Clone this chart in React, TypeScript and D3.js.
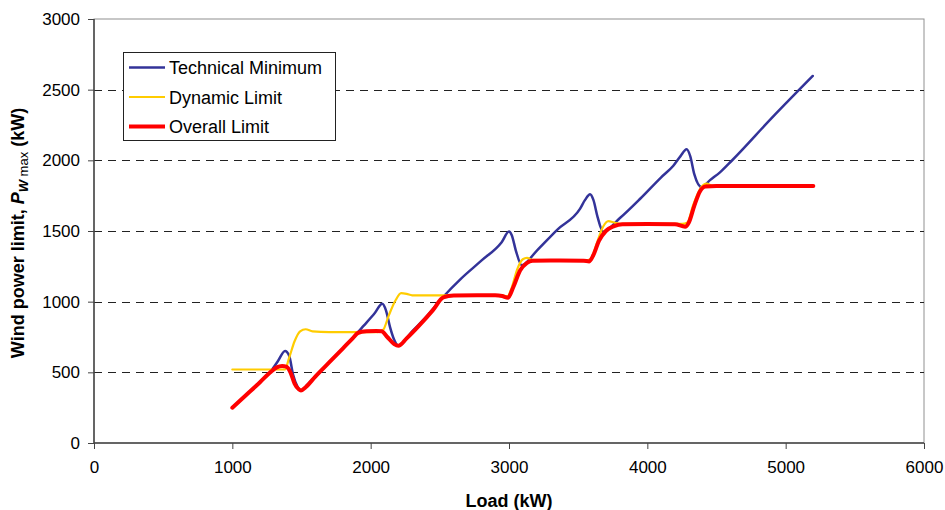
import { useRef, useEffect } from "react";
import { select, scaleLinear, line, curveMonotoneX, axisBottom, axisLeft } from "d3";

const xTicks = [0, 1000, 2000, 3000, 4000, 5000, 6000];
const yTicks = [0, 500, 1000, 1500, 2000, 2500, 3000];
const gridValues = [500, 1000, 1500, 2000, 2500];

// [load kW, power kW]
const technicalMinimum: [number, number][] = [
  [1000, 250], [1100, 340], [1200, 430], [1280, 510], [1330, 580], [1381, 651],
  [1410, 620], [1440, 480], [1470, 400], [1496, 372], [1550, 420], [1650, 520],
  [1750, 620], [1850, 720], [1950, 830], [2030, 920], [2084, 985], [2110, 940],
  [2140, 820], [2170, 730], [2200, 688], [2300, 790], [2400, 890], [2525, 1035],
  [2650, 1160], [2800, 1290], [2947, 1421], [3000, 1496], [3020, 1470], [3050, 1360],
  [3092, 1258], [3200, 1360], [3350, 1510], [3513, 1656], [3550, 1720], [3586, 1760],
  [3610, 1720], [3640, 1600], [3680, 1495], [3800, 1590], [3950, 1730], [4100, 1880],
  [4188, 1962], [4240, 2030], [4284, 2078], [4310, 2030], [4340, 1900], [4393, 1810],
  [4453, 1860], [4525, 1915], [4610, 1997], [4900, 2300], [5196, 2597],
];

const dynamicLimit: [number, number][] = [
  [1000, 520], [1200, 520], [1380, 520], [1410, 600], [1450, 720], [1490, 790],
  [1530, 805], [1580, 790], [1700, 785], [1900, 785], [2050, 785], [2090, 800],
  [2130, 900], [2180, 1010], [2220, 1060], [2260, 1055], [2300, 1045], [2500, 1045],
  [2900, 1045], [2950, 1043], [2990, 1040], [3020, 1100], [3060, 1230], [3100, 1300],
  [3130, 1310], [3170, 1295], [3300, 1292], [3550, 1292], [3590, 1300], [3630, 1400],
  [3680, 1530], [3718, 1570], [3760, 1560], [3800, 1550], [4000, 1550], [4250, 1550],
  [4290, 1560], [4330, 1680], [4390, 1810], [4429, 1835], [4470, 1820], [5200, 1818],
];

const overallLimit: [number, number][] = [
  [1000, 250], [1100, 340], [1200, 430], [1280, 505], [1321, 535], [1360, 545],
  [1390, 540], [1420, 500], [1450, 420], [1480, 380], [1496, 372], [1530, 395],
  [1600, 470], [1700, 570], [1800, 670], [1870, 740], [1911, 780], [1970, 790],
  [2040, 793], [2080, 790], [2120, 750], [2170, 700], [2200, 688], [2260, 740],
  [2350, 830], [2450, 940], [2525, 1030], [2600, 1043], [2900, 1045], [2950, 1040],
  [2993, 1028], [3030, 1100], [3080, 1220], [3130, 1275], [3170, 1290], [3300, 1292],
  [3540, 1290], [3580, 1285], [3610, 1330], [3650, 1430], [3700, 1500], [3760, 1535],
  [3820, 1548], [4000, 1550], [4200, 1548], [4273, 1530], [4300, 1560], [4340, 1680],
  [4380, 1780], [4420, 1815], [4500, 1818], [5200, 1818],
];

const series = [
  { name: "Technical Minimum", data: technicalMinimum, color: "#333399", width: 2.5 },
  { name: "Dynamic Limit", data: dynamicLimit, color: "#FFCC00", width: 2.2 },
  { name: "Overall Limit", data: overallLimit, color: "#FF0000", width: 4 },
];

const font = "Arial, 'Liberation Sans', sans-serif";

export default function App() {
  const svgRef = useRef<SVGSVGElement>(null);

  useEffect(() => {
    const svg = select(svgRef.current);
    svg.selectAll("*").remove();

    const left = 94, right = 924, top = 19, bottom = 443;
    const x = scaleLinear().domain([0, 6000]).range([left, right]);
    const y = scaleLinear().domain([0, 3000]).range([bottom, top]);

    // plot border
    svg.append("rect")
      .attr("x", left).attr("y", top)
      .attr("width", right - left).attr("height", bottom - top)
      .attr("fill", "none").attr("stroke", "#909090").attr("stroke-width", 1);

    // dashed grid
    svg.append("g")
      .selectAll("line")
      .data(gridValues)
      .join("line")
      .attr("x1", left).attr("x2", right)
      .attr("y1", (d) => Math.round(y(d)) + 0.5).attr("y2", (d) => Math.round(y(d)) + 0.5)
      .attr("stroke", "#222").attr("stroke-dasharray", "8,6");

    const xAxis = axisBottom(x).tickValues(xTicks).tickSize(6).tickPadding(12).tickFormat((d) => String(d));
    const gx = svg.append("g").attr("transform", `translate(0,${bottom})`).call(xAxis);
    const yAxis = axisLeft(y).tickValues(yTicks).tickSizeInner(12).tickSizeOuter(0).tickPadding(8).tickFormat((d) => String(d));
    const gy = svg.append("g").attr("transform", `translate(${left + 6},0)`).call(yAxis);
    [gx, gy].forEach((g) => {
      g.select(".domain").remove();
      g.selectAll("line").attr("stroke", "#444");
      g.selectAll("text").attr("font-family", font).attr("font-size", 17).attr("fill", "#000");
    });
    // tick marks only span 6px outside the axis
    gy.selectAll(".tick line").attr("x2", -6).attr("x1", -12);
    svg.append("line").attr("x1", left).attr("x2", left).attr("y1", top).attr("y2", bottom + 0.5)
      .attr("stroke", "#444").attr("stroke-width", 1.5);
    svg.append("line").attr("x1", left).attr("x2", right).attr("y1", bottom).attr("y2", bottom)
      .attr("stroke", "#444").attr("stroke-width", 1.5);

    const gen = line<[number, number]>()
      .x((d) => x(d[0]))
      .y((d) => y(d[1]))
      .curve(curveMonotoneX);

    svg.append("g")
      .selectAll("path")
      .data(series)
      .join("path")
      .attr("d", (s) => gen(s.data))
      .attr("fill", "none")
      .attr("stroke", (s) => s.color)
      .attr("stroke-width", (s) => s.width)
      .attr("stroke-linejoin", "round")
      .attr("stroke-linecap", "round");

    // legend
    const lg = svg.append("g");
    lg.append("rect").attr("x", 123.5).attr("y", 52.5).attr("width", 212).attr("height", 88)
      .attr("fill", "#fff").attr("stroke", "#222");
    series.forEach((s, i) => {
      const yy = 67.5 + i * 29.5;
      lg.append("line").attr("x1", 129).attr("x2", 165).attr("y1", yy).attr("y2", yy)
        .attr("stroke", s.color).attr("stroke-width", s.width);
      lg.append("text").attr("x", 169).attr("y", yy + 6.5)
        .attr("font-family", font).attr("font-size", 18).text(s.name);
    });

    // axis titles
    svg.append("text").attr("x", (left + right) / 2).attr("y", 507)
      .attr("text-anchor", "middle").attr("font-family", font).attr("font-size", 18)
      .attr("font-weight", "bold").text("Load (kW)");

    const yt = svg.append("text")
      .attr("transform", `translate(24,${(top + bottom) / 2 + 2}) rotate(-90)`)
      .attr("text-anchor", "middle").attr("font-family", font).attr("font-size", 18)
      .attr("font-weight", "bold");
    yt.append("tspan").text("Wind power limit,  ");
    yt.append("tspan").attr("font-style", "italic").text("P");
    yt.append("tspan").attr("font-style", "italic").attr("font-size", 13).attr("dy", 4).text("W");
    yt.append("tspan").attr("font-size", 13).attr("font-weight", "normal").text(" max");
    yt.append("tspan").attr("dy", -4).text(" (kW)");
  }, []);

  return (
    <svg
      ref={svgRef}
      width={945}
      height={510}
      style={{ position: "absolute", left: 0, top: 0, background: "#fff" }}
    />
  );
}
